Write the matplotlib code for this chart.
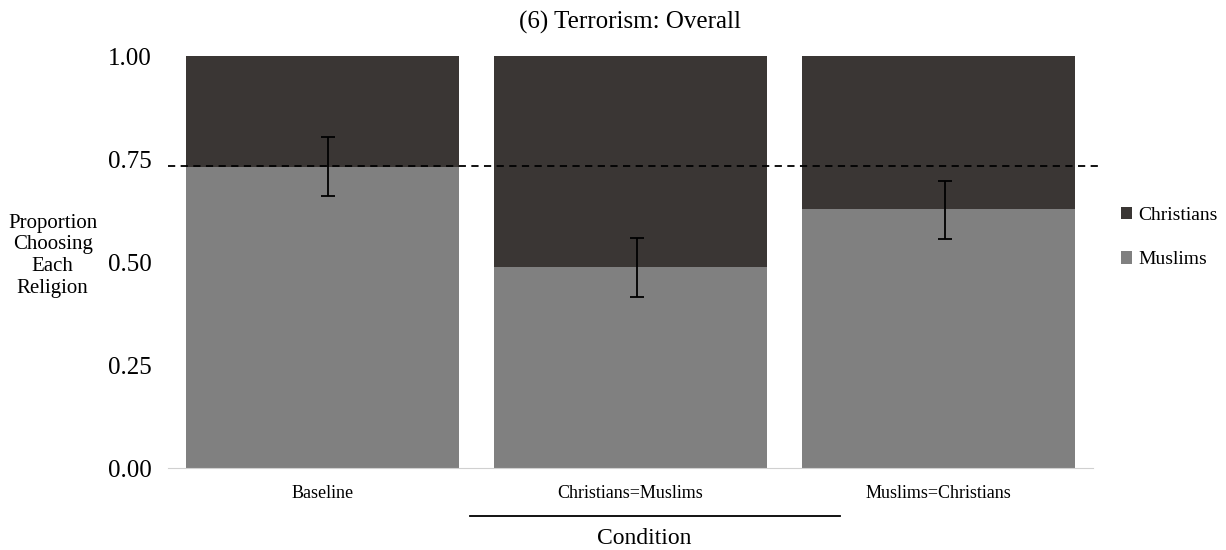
import matplotlib.pyplot as plt
import numpy as np

conditions = ["Baseline", "Christians=Muslims", "Muslims=Christians"]
muslims = [0.73, 0.488, 0.629]
christians = [1 - m for m in muslims]
err_low = [0.66, 0.415, 0.556]
err_high = [0.803, 0.558, 0.697]
baseline_ref = 0.733

plt.rcParams['font.family'] = ['Liberation Serif', 'DejaVu Serif']

fig = plt.figure(figsize=(12.26, 5.5), dpi=100)
ax = fig.add_axes([0.137, 0.149, 0.7545, 0.749])

x = np.arange(len(conditions))
w = 0.885
ax.bar(x, muslims, w, color='#808080', label='Muslims')
ax.bar(x, christians, w, bottom=muslims, color='#3a3634', label='Christians')

m = np.array(muslims)
yerr = [m - np.array(err_low), np.array(err_high) - m]
ax.errorbar(x + 0.02, m, yerr=yerr, fmt='none', ecolor='black', elinewidth=1.3, capsize=5, capthick=1.3)

ax.plot([-0.5, 2.53], [baseline_ref, baseline_ref], color='black', linestyle=(0, (4, 3)), lw=1.3, clip_on=False)

ax.set_xlim(-0.5, 2.5)
ax.set_ylim(0, 1)
ax.set_yticks([0, 0.25, 0.5, 0.75, 1.0])
ax.set_yticklabels(['0.00', '0.25', '0.50', '0.75', '1.00'], fontsize=18)
ax.set_xticks(x)
ax.set_xticklabels(conditions, fontsize=13)
ax.tick_params(axis='both', length=0)
ax.tick_params(axis='x', pad=12)
ax.tick_params(axis='y', pad=12)
for s in ['top', 'right', 'left']:
    ax.spines[s].set_visible(False)
ax.spines['bottom'].set_color('#d0d0d0')

ax.set_title("(6) Terrorism: Overall", fontsize=18, pad=20)

fig.text(0.043, 0.535, "Proportion\nChoosing\nEach\nReligion", fontsize=15, ha='center', va='center', linespacing=1.2)

fig.add_artist(plt.Line2D([470 / 1226, 840 / 1226], [1 - 516 / 550, 1 - 516 / 550], color='black', lw=1.3))
fig.text(644 / 1226, 1 - 539 / 550, "Condition", fontsize=17, ha='center', va='center')

handles, labels = ax.get_legend_handles_labels()
leg = fig.legend(handles[::-1], labels[::-1], loc='center left', bbox_to_anchor=(0.914, 0.568), frameon=False,
                 borderpad=0, borderaxespad=0, fontsize=14, handlelength=0.6, handleheight=0.6,
                 handletextpad=0.3, labelspacing=1.4)

fig.savefig('out.png', dpi=100)
